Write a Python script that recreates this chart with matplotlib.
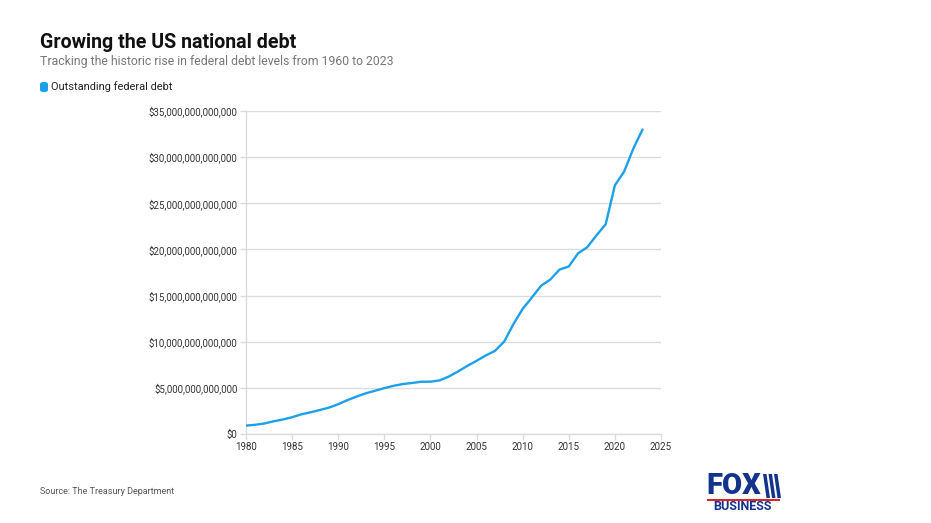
import matplotlib
matplotlib.use("Agg")
import matplotlib.pyplot as plt
import matplotlib.patches as patches
from matplotlib.ticker import FuncFormatter

# --- данные: федеральный долг США, трлн $ ---
years = list(range(1980, 2024))
debt_trillions = [
    0.91, 1.00, 1.14, 1.38, 1.57, 1.82, 2.13, 2.35, 2.60, 2.86,
    3.23, 3.67, 4.06, 4.41, 4.69, 4.97, 5.22, 5.41, 5.53, 5.66,
    5.67, 5.81, 6.23, 6.78, 7.38, 7.93, 8.51, 9.01, 10.02, 11.91,
    13.56, 14.79, 16.07, 16.74, 17.82, 18.15, 19.57, 20.24, 21.52, 22.72,
    26.95, 28.43, 30.93, 33.00,
]
x_ticks = [1980, 1985, 1990, 1995, 2000, 2005, 2010, 2015, 2020, 2025]
y_ticks = [0, 5e12, 10e12, 15e12, 20e12, 25e12, 30e12, 35e12]

title = "Growing the US national debt"
subtitle = "Tracking the historic rise in federal debt levels from 1960 to 2023"
series_name = "Outstanding federal debt"
source = "Source: The Treasury Department"

LINE = "#1ca0e9"
GRID = "#dcdcdc"
TEXT = "#333333"
NAVY = "#14338c"

plt.rcParams["font.family"] = ["Roboto", "DejaVu Sans"]

fig = plt.figure(figsize=(9.31, 5.23), dpi=100)
ax = fig.add_axes([246 / 931, 89 / 523, 415 / 931, 323 / 523])

debt = [v * 1e12 for v in debt_trillions]
ax.plot(years, debt, color=LINE, linewidth=1.7, solid_joinstyle="round",
        solid_capstyle="round", zorder=3)

ax.set_xlim(1980, 2025)
ax.set_ylim(0, 35e12)
ax.set_xticks(x_ticks)
ax.set_yticks(y_ticks)
ax.yaxis.set_major_formatter(FuncFormatter(lambda v, p: "${:,.0f}".format(v)))

ax.grid(axis="y", color=GRID, linewidth=1)
ax.set_axisbelow(True)
for side in ("top", "right"):
    ax.spines[side].set_visible(False)
for side in ("left", "bottom"):
    ax.spines[side].set_color(GRID)
    ax.spines[side].set_linewidth(1)
ax.tick_params(axis="both", colors=GRID, labelcolor=TEXT, labelsize=7,
               length=4, width=1, pad=2)

# заголовки
fig.text(40 / 931, 1 - 42 / 523, title, fontsize=14.1, fontweight="bold",
         color="#111111", va="center", ha="left")
fig.text(40 / 931, 1 - 61 / 523, subtitle, fontsize=8.8, color="#777777",
         va="center", ha="left")

# легенда
fig.patches.append(patches.FancyBboxPatch(
    (40 / 931, 1 - 92 / 523), 8 / 931, 10 / 523,
    boxstyle="round,pad=0,rounding_size=0.004", transform=fig.transFigure,
    facecolor=LINE, edgecolor="none"))
fig.text(51 / 931, 1 - 87 / 523, series_name, fontsize=7.9, color="#222222",
         va="center", ha="left")

fig.text(40 / 931, 1 - 492 / 523, source, fontsize=6.5, color="#555555",
         va="center", ha="left")


def px(x, y):
    """Пиксели (от левого верхнего угла) -> координаты фигуры."""
    return (x / 931, 1 - y / 523)


# логотип FOX BUSINESS
fig.text(734 / 931, 1 - 486 / 523, "FOX", fontsize=21, fontweight="black",
         color=NAVY, va="center", ha="center")
for x0 in (763, 768.5, 774):
    stripe = [px(x0, 474), px(x0 + 3.5, 474), px(x0 + 7, 498), px(x0 + 3.5, 498)]
    fig.patches.append(patches.Polygon(stripe, closed=True,
                                       transform=fig.transFigure,
                                       facecolor=NAVY, edgecolor="none"))
fig.patches.append(patches.Rectangle(
    px(707, 500.5), 73 / 931, 1.6 / 523,
    transform=fig.transFigure, facecolor="#d62828", edgecolor="none"))
fig.text(743 / 931, 1 - 506 / 523, "BUSINESS", fontsize=9, fontweight="bold",
         color=NAVY, va="center", ha="center")

fig.savefig("out.png", dpi=100)
